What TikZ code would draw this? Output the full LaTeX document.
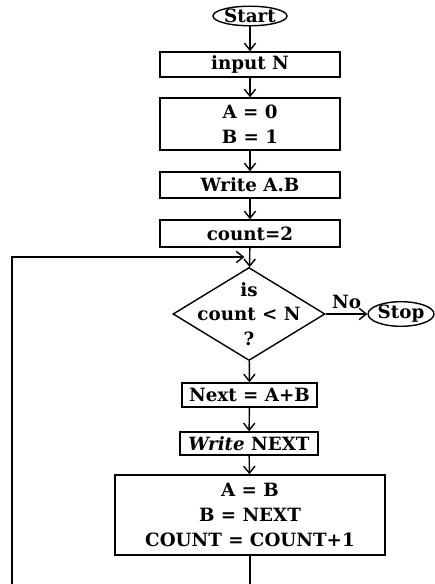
\documentclass[tikz,border=0pt]{standalone}
\usepackage{fontspec}
\setmainfont{DejaVu Serif}
\usetikzlibrary{shapes.geometric}
\usetikzlibrary{arrows.meta}
\usetikzlibrary{positioning}

\tikzset{
  procbox/.style={draw, rectangle, inner sep=0pt, align=center},
  termnode/.style={draw, ellipse, inner sep=0pt},
  txt/.style={font=\bfseries\fontsize{13}{17.5}\selectfont},
}

\begin{document}
\begin{tikzpicture}[x=0.025cm, y=-0.025cm, line width=1pt, >={Straight Barb[length=5pt,width=8pt]}, every node/.style={txt}]
    \useasboundingbox (0,0) rectangle (434,584);

    \node[termnode, minimum width=1.85cm, minimum height=0.45cm] (start) at (250,16) {Start};
    \node[procbox, minimum width=4.5cm, minimum height=0.625cm] (input) at (250,64.5) {input N};
    \node[procbox, minimum width=4.5cm, minimum height=1.3cm] (init) at (250,124) {A = 0\\B = 1};
    \node[procbox, minimum width=4.5cm, minimum height=0.65cm] (writeab) at (250,185) {Write A.B};
    \node[procbox, minimum width=4.5cm, minimum height=0.675cm] (count) at (250,233.5) {count=2};

    \node[draw, diamond, minimum width=3.8cm, minimum height=2.325cm, inner sep=0pt] (test) at (249,314) {};
    \node[align=center] (testtxt) at (test) {is\\count \textless{} N\\?};
    \node[termnode, minimum width=1.425cm, minimum height=0.45cm] (stop) at (401,314) {Stop};

    \node[procbox, minimum width=3.375cm, minimum height=0.6cm] (next) at (249.5,395) {Next = A+B};
    \node[procbox, minimum width=3.45cm, minimum height=0.575cm] (writenext) at (249,443.5) {\textit{Write} NEXT};
    \node[procbox, minimum width=6.75cm, minimum height=2cm] (update) at (250,515) {A = B\\B = NEXT\\COUNT = COUNT+1};

    \coordinate (join) at (250,257);
    \coordinate (lowleft) at (12,610);

    \draw [->] (start) -- (input);
    \draw [->] (input) -- (init);
    \draw [->] (init) -- (writeab);
    \draw [->] (writeab) -- (count);
    \draw [->] (count) -- (test);
    \draw [->] (test) --node[above]{No} (stop);
    \draw [->] (test) -- (next);
    \draw [->] (next) -- (writenext);
    \draw [->] (writenext) -- (update);
    \draw [->] (update.south) |- (lowleft) |- ([xshift=-4pt]join);
\end{tikzpicture}
\end{document}
